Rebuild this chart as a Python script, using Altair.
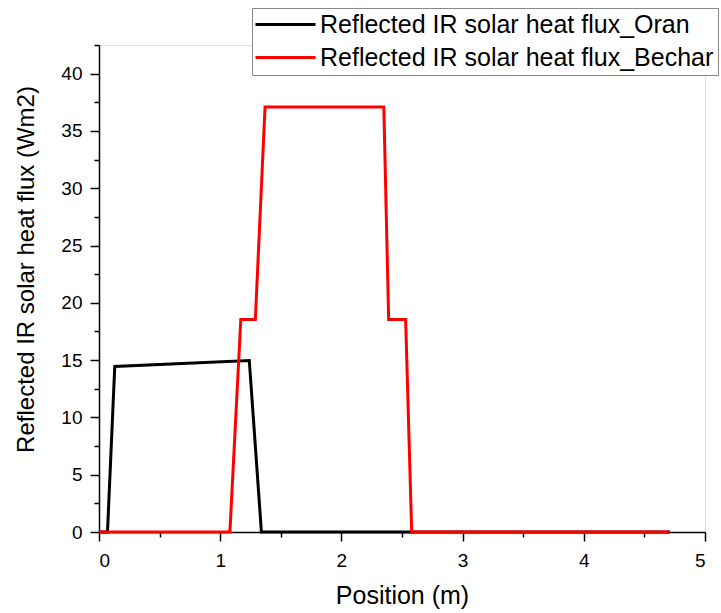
import altair as alt
import pandas as pd

series_names = ["Reflected IR solar heat flux_Oran", "Reflected IR solar heat flux_Bechar"]
series_colors = ["black", "red"]

oran_x = [0.0, 0.07, 0.13, 1.24, 1.34, 4.71]
oran_y = [0.0, 0.0, 14.45, 14.97, 0.0, 0.0]

bechar_x = [0.0, 1.08, 1.17, 1.29, 1.37, 2.35, 2.39, 2.53, 2.58, 4.71]
bechar_y = [0.0, 0.0, 18.55, 18.55, 37.1, 37.1, 18.55, 18.55, 0.0, 0.0]

x_major = [0, 1, 2, 3, 4, 5]
x_minor = [0.5, 1.5, 2.5, 3.5, 4.5]
y_major = [0, 5, 10, 15, 20, 25, 30, 35, 40]
y_minor = [2.5, 7.5, 12.5, 17.5, 22.5, 27.5, 32.5, 37.5, 42.5]

df_oran = pd.DataFrame({"x": oran_x, "y": oran_y, "series": series_names[0], "o": range(len(oran_x))})
df_bechar = pd.DataFrame({"x": bechar_x, "y": bechar_y, "series": series_names[1], "o": range(len(bechar_x))})

FONT = "Liberation Sans"
xs = alt.Scale(domain=[0, 5], nice=False, zero=False)
ys = alt.Scale(domain=[0, 42.5], nice=False, zero=False)
cs = alt.Scale(domain=series_names, range=series_colors)

major_x_axis = alt.Axis(values=x_major, title="Position (m)", orient="bottom", grid=False,
                        tickSize=9, tickWidth=1.5, tickColor="black", domainColor="black", domainWidth=1.5,
                        labelFont=FONT, labelFontSize=19, labelColor="black", labelPadding=10,
                        titleFont=FONT, titleFontSize=25, titleFontWeight="normal", titleColor="black",
                        titlePadding=13, format="d")
major_y_axis = alt.Axis(values=y_major, title="Reflected IR solar heat flux (Wm2)", orient="left", grid=False,
                        tickSize=9, tickWidth=1.5, tickColor="black", domainColor="black", domainWidth=1.5,
                        labelFont=FONT, labelFontSize=19, labelColor="black", labelPadding=8,
                        titleFont=FONT, titleFontSize=24, titleFontWeight="normal", titleColor="black",
                        titlePadding=22, titleY=224, format="d")
minor_x_axis = alt.Axis(values=x_minor, title=None, orient="bottom", grid=False, labels=False,
                        tickSize=5, tickWidth=1.5, tickColor="black", domain=False)
minor_y_axis = alt.Axis(values=y_minor, title=None, orient="left", grid=False, labels=False,
                        tickSize=5, tickWidth=1.5, tickColor="black", domain=False)

legend = alt.Legend(title=None, orient="none", legendX=153, legendY=-37,
                    symbolType="M-1.3,0H4.7", symbolSize=400, symbolStrokeWidth=3,
                    symbolFillColor="transparent",
                    labelFont=FONT, labelFontSize=25, labelColor="black", labelLimit=0,
                    labelOffset=39, strokeColor="#888888", fillColor="white",
                    padding=4, rowPadding=7, symbolOpacity=1)

minor = alt.Chart(df_oran).mark_line(opacity=0).encode(
    x=alt.X("x:Q", scale=xs, axis=minor_x_axis),
    y=alt.Y("y:Q", scale=ys, axis=minor_y_axis),
)

oran = alt.Chart(df_oran).mark_line(strokeWidth=3).encode(
    x=alt.X("x:Q", scale=xs, axis=major_x_axis),
    y=alt.Y("y:Q", scale=ys, axis=major_y_axis),
    color=alt.Color("series:N", scale=cs, legend=legend),
    order="o:Q",
)
bechar = alt.Chart(df_bechar).mark_line(strokeWidth=3).encode(
    x=alt.X("x:Q", scale=xs, axis=None),
    y=alt.Y("y:Q", scale=ys, axis=None),
    color=alt.Color("series:N", scale=cs, legend=legend),
    order="o:Q",
)

chart = alt.layer(minor, oran, bechar).resolve_axis(x="independent", y="independent").properties(
    width=606, height=487,
    autosize=alt.AutoSizeParams(type="none"),
    padding={"left": 99, "top": 45, "right": 16, "bottom": 81},
).configure_view(stroke=None).configure(background="white")

chart.save("out.html", embed_options={"renderer": "svg", "actions": False})
